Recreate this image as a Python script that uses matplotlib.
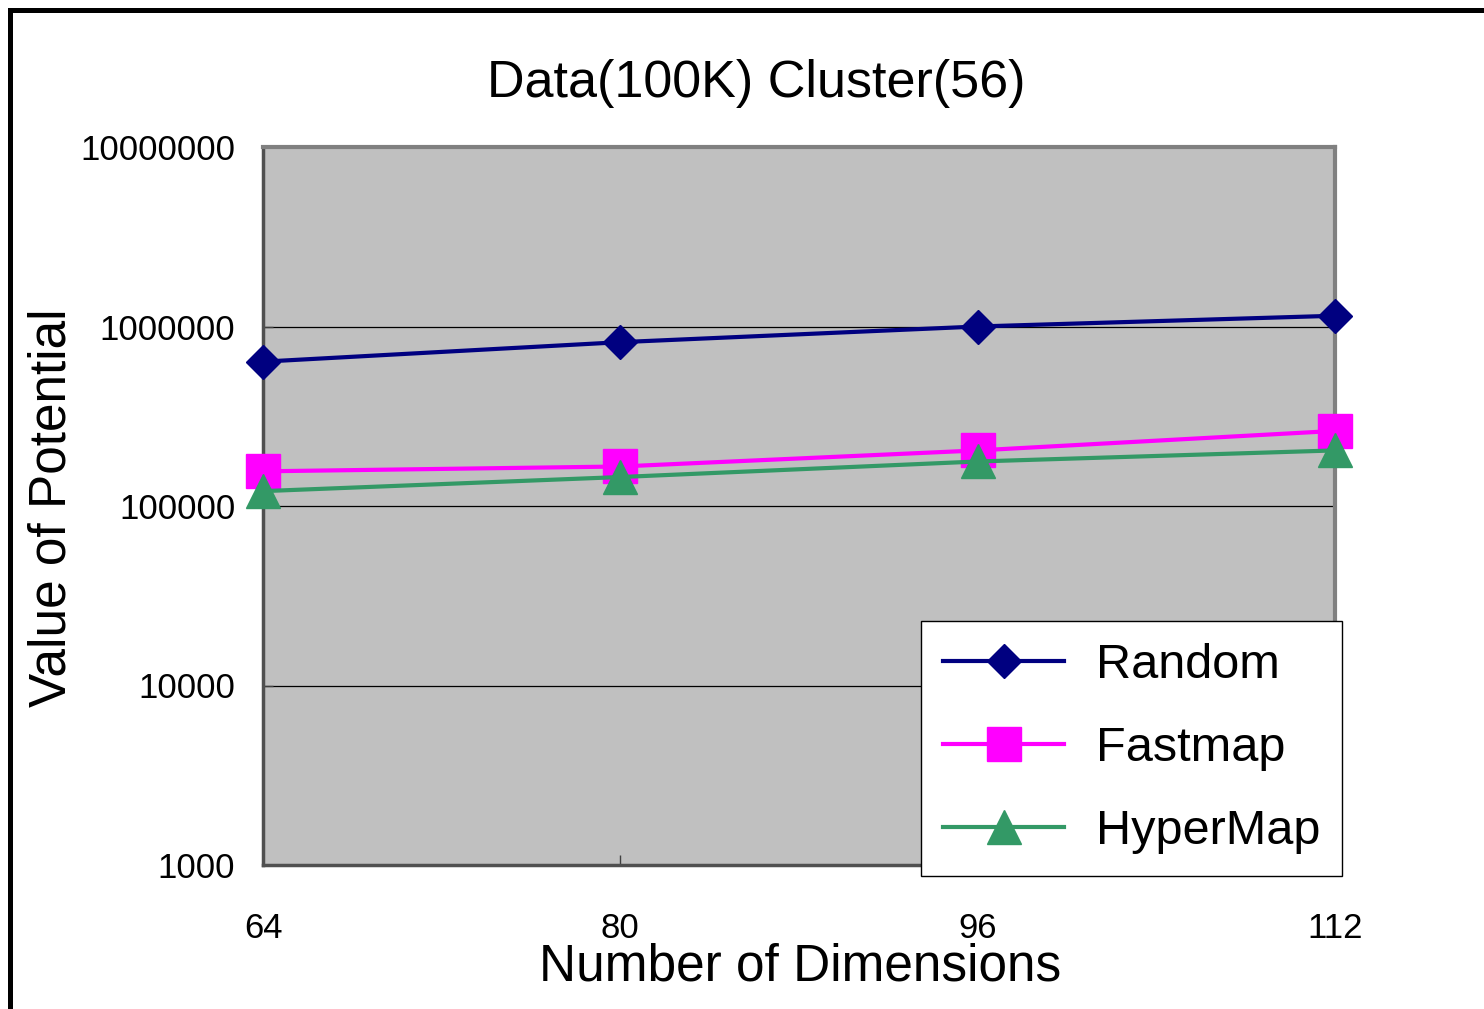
import matplotlib
matplotlib.use("Agg")
import matplotlib.pyplot as plt
from matplotlib.lines import Line2D

plt.rcParams['font.family'] = ['Liberation Sans', 'DejaVu Sans']

dims = [64, 80, 96, 112]
random_vals = [637000, 818000, 1000000, 1148000]
fastmap_vals = [156000, 166000, 204000, 262000]
hypermap_vals = [121000, 145000, 177000, 204000]
yticks = [1000, 10000, 100000, 1000000, 10000000]
ytick_labels = ["1000", "10000", "100000", "1000000", "10000000"]

W, H = 1484, 1009
fig = plt.figure(figsize=(W / 100, H / 100), dpi=100)
ax = fig.add_axes([263 / W, 1 - 865 / H, (1335 - 263) / W, (865 - 147) / H])
ax.set_facecolor('#C0C0C0')

ax.plot(dims, random_vals, color='#000080', lw=3, marker='D', ms=17.5,
        mec='#000080', label='Random', zorder=4, clip_on=False)
ax.plot(dims, fastmap_vals, color='#FF00FF', lw=3, marker='s', ms=24,
        mec='#FF00FF', label='Fastmap', zorder=3, clip_on=False)
ax.plot(dims, hypermap_vals, color='#339966', lw=3, marker='^', ms=25,
        mec='#339966', label='HyperMap', zorder=3, clip_on=False)

ax.set_yscale('log')
ax.set_ylim(1000, 10000000)
ax.set_xlim(64, 112)
ax.set_yticks(yticks)
ax.set_yticklabels(ytick_labels)
ax.minorticks_off()
ax.set_xticks(dims)
ax.set_xticklabels([str(d) for d in dims])
ax.yaxis.grid(True, color='black', lw=0.9)
ax.set_axisbelow(True)
ax.tick_params(axis='both', direction='in', length=7, width=1, color='#404040',
               labelsize=25)
ax.tick_params(axis='y', pad=20)
ax.tick_params(axis='x', pad=34)
for s in ax.spines.values():
    s.set_color('#808080')
    s.set_linewidth(3)
ax.spines['left'].set_color('#505050')
ax.spines['bottom'].set_color('#505050')
ax.spines['left'].set_linewidth(2.5)
ax.spines['bottom'].set_linewidth(2.5)

leg = ax.legend(loc='upper left', bbox_to_anchor=(921 / W, 1 - 621 / H),
                bbox_transform=fig.transFigure, fontsize=35, frameon=True,
                fancybox=False, borderaxespad=0, borderpad=0.45,
                handlelength=2.5, handletextpad=0.65, labelspacing=0.78,
                edgecolor='black', framealpha=1)
leg.get_frame().set_linewidth(1)
leg.set_zorder(10)

fig.text(756 / W, 1 - 84 / H, "Data(100K) Cluster(56)", fontsize=37.5,
         ha='center', va='center')
fig.text(800 / W, 1 - 967 / H, "Number of Dimensions", fontsize=37,
         ha='center', va='center')
fig.text(52 / W, 1 - 508 / H, "Value of Potential", fontsize=37,
         ha='center', va='center', rotation=90)

# outer border of the chart (only top and left visible)
fig.add_artist(Line2D([9.5 / W, 1], [1 - 9.5 / H, 1 - 9.5 / H], color='black',
                      lw=3.6, transform=fig.transFigure))
fig.add_artist(Line2D([9.5 / W, 9.5 / W], [0, 1 - 9.5 / H], color='black',
                      lw=3.6, transform=fig.transFigure))

fig.savefig("out.png", dpi=100)
